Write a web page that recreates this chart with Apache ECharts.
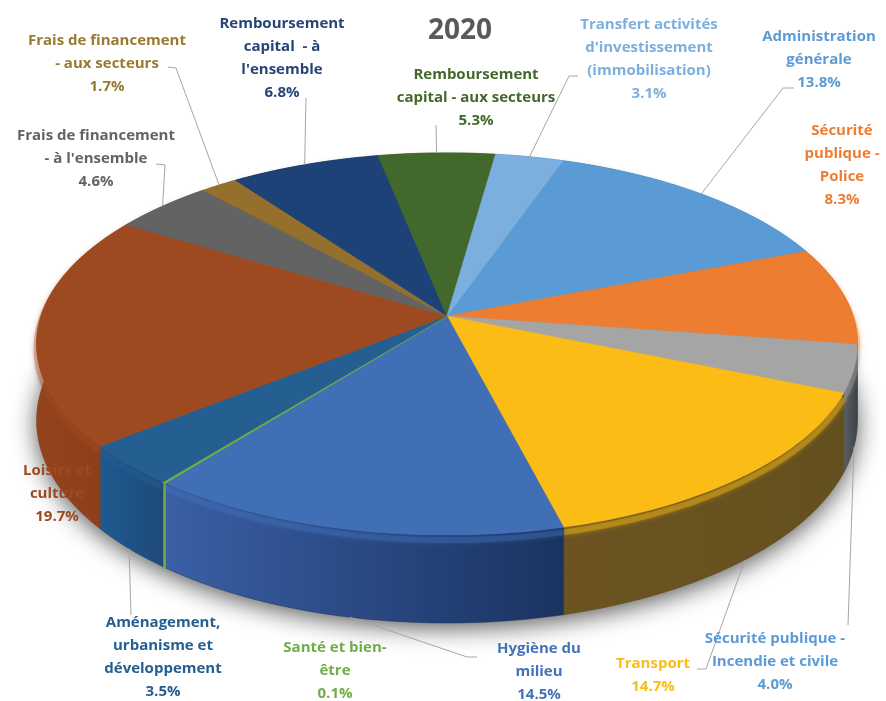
<!DOCTYPE html>
<html>
<head>
<meta charset="utf-8">
<title>2020</title>
<script src="https://cdn.jsdelivr.net/npm/echarts@6/dist/echarts.min.js"></script>
<style>
  html, body { margin: 0; padding: 0; background: #fff; }
  #chart { width: 886px; height: 701px; }
</style>
</head>
<body>
<div id="chart"></div>
<script>
// slices, clockwise from the top of the pie
const categories = [
  "Administration\ngénérale",
  "Sécurité\npublique -\nPolice",
  "Sécurité publique -\nIncendie et civile",
  "Transport",
  "Hygiène du\nmilieu",
  "Santé et bien-\nêtre",
  "Aménagement,\nurbanisme et\ndéveloppement",
  "Loisirs et\nculture",
  "Frais de financement\n- à l'ensemble",
  "Frais de financement\n- aux secteurs",
  "Remboursement\ncapital  - à\nl'ensemble",
  "Remboursement\ncapital - aux secteurs",
  "Transfert activités\nd'investissement\n(immobilisation)"
];
const values = [13.8, 8.3, 4.0, 14.7, 14.5, 0.1, 3.5, 19.7, 4.6, 1.7, 6.8, 5.3, 3.1];

const topColors = ["#5b9bd5", "#ed7d31", "#a5a5a5", "#fbbc16", "#416fb6", "#70ad47", "#255e91", "#9e4a21", "#636363", "#94702c", "#1c4278", "#43682b", "#7cafdd"];
const wallLeft = ["#3a6a96", "#9a5120", "#5c6064", "#6b5421", "#3a5fa6", "#70ad47", "#1f5a90", "#94431c", "#444", "#665", "#123", "#2c4a1c", "#4a7aa0"];
const wallRight = ["#3a6a96", "#9a5120", "#3d4246", "#64501f", "#1a3360", "#70ad47", "#1e4a78", "#8a3e1b", "#444", "#665", "#123", "#2c4a1c", "#4a7aa0"];
const textColors = ["#5b9bd5", "#ed7d31", "#5b9bd5", "#fbbc16", "#4472b8", "#70ad47", "#255e91", "#9e4a21", "#636363", "#997a30", "#264478", "#43682b", "#7cafdd"];

// label placement: centre x, first line y
const labelX = [819, 842, 775, 653, 539, 335, 163, 57, 96, 107, 282, 476, 649];
const labelY = [36, 130, 638, 663, 648, 647, 622, 470, 135, 40, 23, 74, 24];
// bend points of the leader lines, null = no leader
const leaderBends = [
  [[783, 88], [794, 88]],
  null,
  [[848, 625]],
  [[706, 669], [697, 669]],
  [[467, 657], [477, 657]],
  null,
  [[131, 615]],
  null,
  [[165, 165], [156, 164]],
  [[176, 68], [168, 67]],
  [[306, 98]],
  [[436, 125]],
  [[569, 76], [578, 76]]
];

// tilted disc seen in perspective
const cx = 447, cy = 316, rx = 406, ry = 187, persp = 0.1466, depth = 75;
const startDeg = 19;

function project(deg, drop) {
  const a = deg * Math.PI / 180;
  const u = Math.sin(a), v = -Math.cos(a);
  const w = 1 / (1 - persp * v);
  return [cx + rx * u * w, cy + ry * v * w + (drop ? depth * w : 0)];
}

const total = values.reduce((s, v) => s + v, 0);
const angles = [];
values.reduce((s, v) => {
  angles.push([startDeg + s / total * 360, startDeg + (s + v) / total * 360]);
  return s + v;
}, 0);

function arc(from, to, drop) {
  const pts = [];
  const n = Math.max(2, Math.ceil((to - from) / 1));
  for (let i = 0; i <= n; i++) pts.push(project(from + (to - from) * i / n, drop));
  return pts;
}

function renderShadow() {
  return {
    type: "polygon",
    shape: { points: arc(0, 360, true) },
    style: { fill: "#888", shadowBlur: 24, shadowColor: "rgba(0,0,0,0.65)", shadowOffsetY: 5 }
  };
}

function renderWall(params) {
  const i = params.dataIndex;
  const [a, b] = angles[i];
  const top = arc(a, b, false);
  const bottom = arc(a, b, true).reverse();
  const thin = values[i] < 0.5;
  return {
    type: "group",
    children: [{
      type: "polygon",
      shape: { points: top.concat(bottom) },
      style: {
        fill: { type: "linear", x: 0, y: 0, x2: 1, y2: 0, colorStops: [
          { offset: 0, color: wallLeft[i] }, { offset: 1, color: wallRight[i] }
        ] },
        stroke: thin ? topColors[i] : wallRight[i],
        lineWidth: thin ? 1.5 : 0.5
      }
    }, {
      // soft light band under the rim
      type: "polyline",
      shape: { points: top.map(p => [p[0], p[1] + 5]) },
      style: { fill: null, stroke: topColors[i], opacity: 0.35, lineWidth: 6, shadowBlur: 5, shadowColor: topColors[i] }
    }]
  };
}

function renderTop(params) {
  const i = params.dataIndex;
  const [a, b] = angles[i];
  const thin = values[i] < 0.5;
  return {
    type: "polygon",
    shape: { points: [[cx, cy]].concat(arc(a, b, false)) },
    style: { fill: topColors[i], stroke: topColors[i], lineWidth: thin ? 1.5 : 0.5 }
  };
}

function renderLeader(params) {
  const i = params.dataIndex;
  if (!leaderBends[i]) return null;
  const mid = (angles[i][0] + angles[i][1]) / 2;
  const front = project(mid, false)[1] > 340;
  return {
    type: "polyline",
    shape: { points: [project(mid, front)].concat(leaderBends[i]) },
    style: { fill: null, stroke: "#a6a6a6", lineWidth: 1 }
  };
}

function renderLabel(params) {
  const i = params.dataIndex;
  return {
    type: "text",
    x: labelX[i],
    y: labelY[i] - 11,
    style: {
      text: categories[i] + "\n" + values[i].toFixed(1) + "%",
      fill: textColors[i],
      font: 'bold 15px "Open Sans", sans-serif',
      lineHeight: 23,
      align: "center",
      verticalAlign: "top"
    }
  };
}

const chart = echarts.init(document.getElementById("chart"));
chart.setOption({
  animation: false,
  backgroundColor: "#fff",
  title: {
    text: "2020",
    left: 455,
    top: 12,
    textAlign: "center",
    textStyle: { color: "#595959", fontSize: 28, fontWeight: "bold", fontFamily: "Open Sans" }
  },
  series: [
    { type: "custom", coordinateSystem: "none", silent: true, z: 1, data: [0], renderItem: renderShadow },
    { type: "custom", coordinateSystem: "none", silent: true, z: 2, data: values, renderItem: renderWall },
    { type: "custom", coordinateSystem: "none", silent: true, z: 3, data: values, renderItem: renderTop },
    { type: "custom", coordinateSystem: "none", silent: true, z: 4, data: values, renderItem: renderLeader },
    { type: "custom", coordinateSystem: "none", silent: true, z: 5, data: values, renderItem: renderLabel }
  ]
});
</script>
</body>
</html>
